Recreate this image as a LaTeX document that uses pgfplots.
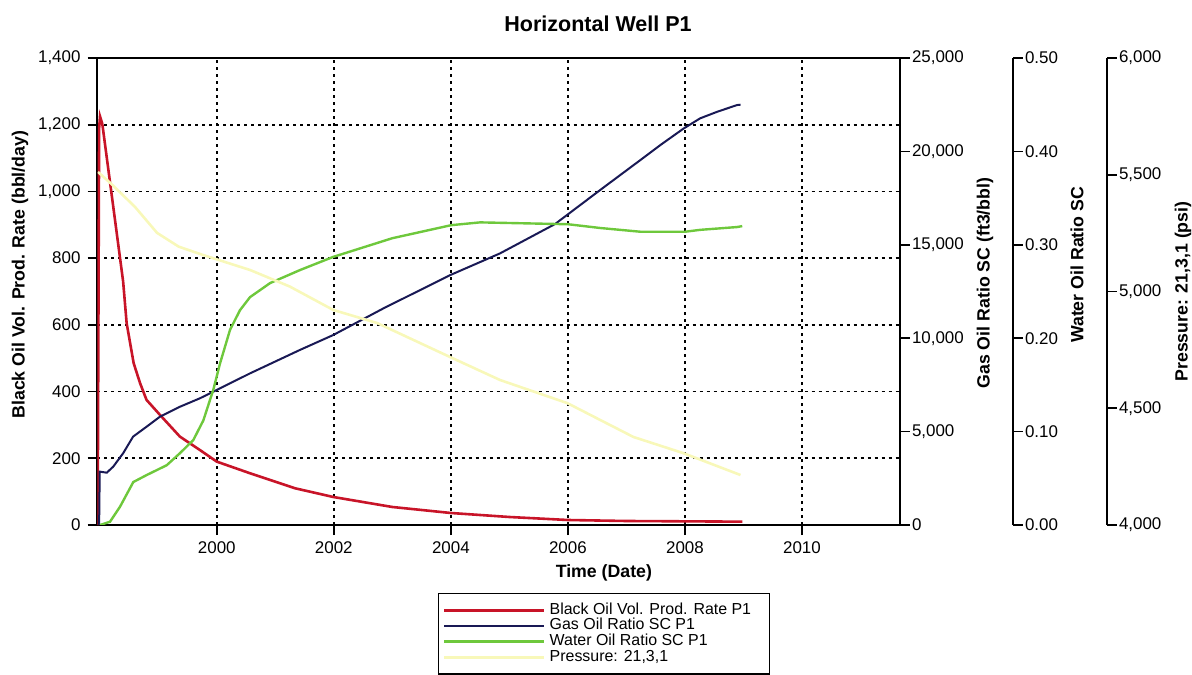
\documentclass[border=0pt]{standalone}
\usepackage{fontspec}
\setmainfont{Liberation Sans}
\usepackage{pgfplots}
\pgfplotsset{compat=1.18}

\definecolor{oilred}{RGB}{200,20,40}
\definecolor{gasblue}{RGB}{25,25,85}
\definecolor{watgreen}{RGB}{110,200,60}
\definecolor{presyel}{RGB}{248,248,185}

\pgfplotsset{
  common/.style={
    scale only axis, height=233.5bp, xmin=1997.962,
    tick align=outside, major tick length=5bp,
    tick style={black, line width=0.8bp},
    axis line style={black, line width=1bp},
    every tick label/.append style={font=\fontsize{8.5}{10}\selectfont},
    /pgf/number format/assume math mode=true,
    /pgf/number format/1000 sep={,},
    scaled ticks=false,
    label style={font=\bfseries\fontsize{8.9}{10}\selectfont},
  },
  side/.style={common, axis x line=none, axis y line*=right,
    yticklabel style={xshift=-2.5bp}},
}

\begin{document}
\begin{tikzpicture}

% main axis: oil rate
\begin{axis}[common,
  width=401.25bp, xmax=2011.675,
  ymin=0, ymax=1400, ytick={0,200,...,1400},
  xtick={2000,2002,...,2010},
  xticklabel style={/pgf/number format/1000 sep={}},
  xtick pos=bottom, ytick pos=left,
  grid=major,
  grid style={black, line width=0.8bp, dash pattern=on 1.5bp off 2bp},
  title={Horizontal Well P1},
  every axis title/.style={at={(rel axis cs:0.6237,1.0728)}, anchor=center,
    font=\bfseries\fontsize{10.8}{12}\selectfont},
  xlabel={Time (Date)},
  xlabel style={at={(rel axis cs:0.631,-0.1028)}, anchor=center},
  ylabel={Black Oil Vol. Prod. Rate (bbl/day)},
  ylabel style={at={(rel axis cs:-0.0965,0.536)}, anchor=center},
  legend style={at={(rel axis cs:0.4243,-0.1456)}, anchor=north west,
    draw=black, line width=0.7bp, inner xsep=2bp, inner ysep=4.5bp,
    font=\fontsize{8}{9}\selectfont, row sep=0pt,
    nodes={text height=5.8bp, text depth=2bp, inner ysep=0bp, inner xsep=2.2bp}},
  legend cell align=left,
  legend image code/.code={\draw[#1] (0bp,0bp) -- (50bp,0bp);},
]
\addplot[oilred, line width=1.3bp] coordinates {
(1997.965,0) (1997.99,1190) (1998.005,1225) (1998.04,1205) (1998.05,1195)
(1998.40,730) (1998.46,605) (1998.58,485) (1998.69,425) (1998.80,375)
(1999.03,330) (1999.37,265) (1999.71,225) (2000.0,190) (2000.57,155)
(2001.34,110) (2001.99,84) (2003.0,54) (2004.0,36) (2005.0,24)
(2006.0,15) (2007.0,12) (2008.0,11) (2008.98,10)
};
\addlegendentry{Black Oil Vol. Prod. Rate P1\hspace*{5bp}}
\addlegendimage{gasblue, line width=1bp}
\addlegendentry{Gas Oil Ratio SC P1}
\addlegendimage{watgreen, line width=1.2bp}
\addlegendentry{Water Oil Ratio SC P1}
\addlegendimage{presyel, line width=1.3bp}
\addlegendentry{Pressure: 21,3,1}
\end{axis}

% gas oil ratio axis
\begin{axis}[side,
  width=401.25bp, xmax=2011.675,
  ymin=0, ymax=25000, ytick={0,5000,...,25000},
  ylabel={Gas Oil Ratio SC (ft3/bbl)},
  ylabel style={at={(rel axis cs:1.1059,0.518)}, anchor=center},
]
\addplot[gasblue, line width=1bp] coordinates {
(1997.99,0) (1998.0,2855) (1998.005,2855) (1998.12,2800) (1998.23,3120)
(1998.40,3840) (1998.57,4730) (1998.80,5260) (1999.03,5800) (1999.37,6330)
(1999.71,6780) (2000.0,7230) (2000.57,8120) (2001.42,9370) (2001.99,10170)
(2002.85,11600) (2003.99,13380) (2004.84,14540) (2005.78,16110) (2006.55,17930)
(2007.24,19540) (2007.58,20340) (2007.98,21230) (2008.26,21770) (2008.55,22120)
(2008.89,22480) (2008.95,22500)
};
\end{axis}

% water oil ratio axis
\begin{axis}[side,
  width=457.75bp, xmax=2013.607,
  ymin=0, ymax=0.5, ytick={0,0.1,0.2,0.3,0.4,0.5},
  yticklabel style={/pgf/number format/.cd, fixed, fixed zerofill, precision=2},
  ylabel={Water Oil Ratio SC},
  ylabel style={at={(rel axis cs:1.0699,0.557)}, anchor=center},
]
\addplot[watgreen, line width=1.2bp] coordinates {
(1998.005,0) (1998.176,0.0035) (1998.347,0.0196) (1998.574,0.046) (1998.803,0.0535)
(1999.145,0.064) (1999.373,0.077) (1999.6,0.091) (1999.771,0.112) (1999.942,0.145)
(2000.056,0.173) (2000.227,0.209) (2000.397,0.230) (2000.569,0.244) (2000.911,0.259)
(2001.424,0.273) (2001.988,0.287) (2002.997,0.307) (2004.005,0.321) (2004.5,0.324)
(2006.005,0.322) (2006.55,0.318) (2007.236,0.314) (2008.005,0.314) (2008.26,0.316)
(2008.89,0.319) (2008.98,0.320)
};
\end{axis}

% pressure axis
\begin{axis}[side,
  width=504.75bp, xmax=2015.213,
  ymin=4000, ymax=6000, ytick={4000,4500,...,6000},
  ylabel={Pressure: 21,3,1 (psi)},
  ylabel style={at={(rel axis cs:1.0753,0.5)}, anchor=center},
]
\addplot[presyel, line width=1.3bp] coordinates {
(1997.97,5512) (1998.18,5465) (1998.6,5363) (1998.98,5251) (1999.35,5192)
(1999.77,5156) (2000.57,5092) (2001.25,5021) (2001.99,4921) (2002.74,4865)
(2003.99,4719) (2004.84,4621) (2005.99,4522) (2007.12,4377) (2007.97,4308)
(2008.95,4214)
};
\end{axis}

\pgfresetboundingbox
\path[use as bounding box] (-48.75bp,-75bp) rectangle (547.25bp,262.5bp);
\end{tikzpicture}
\end{document}
